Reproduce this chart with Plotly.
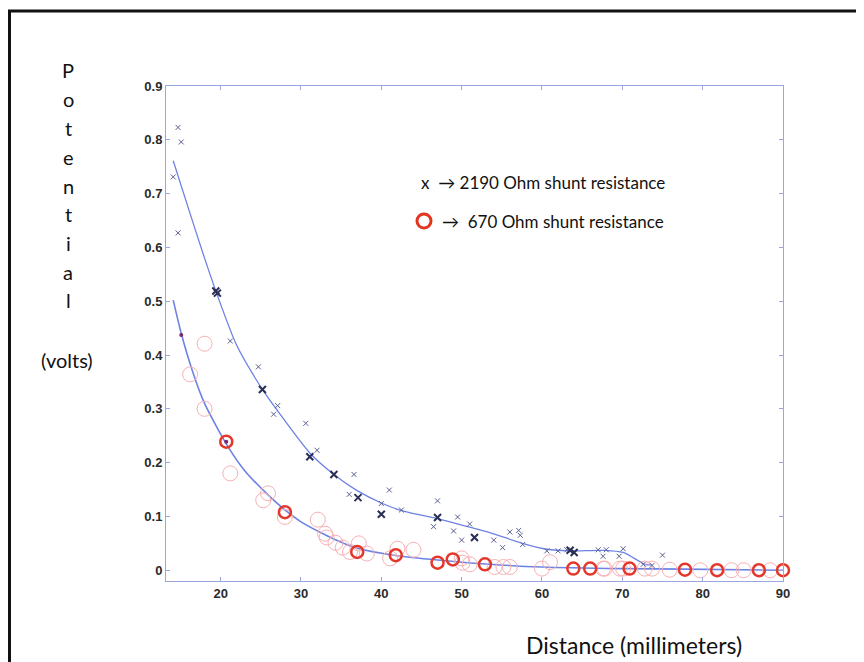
import plotly.graph_objects as go

# ---- data ----
# 2190 Ohm shunt resistance (x markers)
a_x = [14.7, 15.1, 14.1, 14.7, 21.2, 24.7, 27.1, 26.6, 30.6, 32.0, 36.6, 36.0, 40.0, 41.0, 42.5,
       47.0, 46.5, 49.0, 49.5, 51.0, 50.0, 54.0, 55.1, 56.0, 57.1, 57.3, 57.6, 60.6, 62.0, 63.1,
       67.0, 68.0, 67.6, 70.1, 69.6, 72.6, 73.7, 75.0]
a_y = [0.823, 0.796, 0.731, 0.627, 0.426, 0.378, 0.306, 0.290, 0.273, 0.223, 0.178, 0.141, 0.124, 0.149, 0.112,
       0.129, 0.081, 0.073, 0.099, 0.086, 0.056, 0.056, 0.042, 0.071, 0.074, 0.065, 0.048, 0.036, 0.036, 0.038,
       0.038, 0.038, 0.026, 0.040, 0.026, 0.011, 0.009, 0.028]
a_bold_x = [19.4, 19.6, 25.2, 31.1, 34.1, 37.1, 40.0, 47.0, 51.6, 63.5, 64.0]
a_bold_y = [0.519, 0.515, 0.336, 0.211, 0.178, 0.135, 0.104, 0.098, 0.061, 0.037, 0.033]

# 670 Ohm shunt resistance (circles)
b_x = [18.0, 16.2, 18.0, 21.2, 25.9, 25.3, 28.0, 32.1, 33.0, 33.2, 34.3, 35.2, 37.2, 36.1, 38.2,
       41.1, 42.0, 44.0, 50.0, 50.1, 51.0, 54.1, 55.2, 56.0, 60.0, 61.0, 67.6, 67.8, 69.7, 70.1,
       72.8, 73.7, 75.9, 79.7, 83.6, 85.1, 88.4]
b_y = [0.421, 0.364, 0.300, 0.180, 0.143, 0.130, 0.099, 0.094, 0.068, 0.061, 0.051, 0.042, 0.050, 0.034, 0.031,
       0.022, 0.040, 0.038, 0.022, 0.014, 0.011, 0.006, 0.006, 0.006, 0.003, 0.015, 0.003, 0.003, 0.003, 0.003,
       0.003, 0.003, 0.001, 0.0, 0.0, 0.0, 0.0]
b_bold_x = [20.7, 28.0, 37.0, 41.8, 47.0, 48.9, 52.9, 63.9, 66.0, 70.9, 77.8, 81.8, 87.0, 90.0]
b_bold_y = [0.239, 0.108, 0.034, 0.028, 0.014, 0.020, 0.011, 0.003, 0.003, 0.003, 0.001, 0.0, 0.0, 0.0]
b_dot_x = [15.1, 20.7]
b_dot_y = [0.437, 0.239]

# fitted curves
fit_a_x = [14.1, 16.0, 18.0, 19.4, 22.0, 25.2, 27.1, 31.1, 34.1, 37.0, 40.0, 42.5, 47.0, 49.0, 51.0,
           53.5, 57.8, 60.6, 63.5, 67.8, 70.1, 71.5, 72.8, 73.7]
fit_a_y = [0.761, 0.672, 0.580, 0.519, 0.418, 0.336, 0.296, 0.218, 0.178, 0.148, 0.125, 0.111, 0.096, 0.088, 0.080,
           0.070, 0.049, 0.039, 0.036, 0.037, 0.033, 0.022, 0.011, 0.010]
fit_b_x = [14.1, 15.1, 16.5, 18.0, 20.7, 23.0, 25.9, 28.0, 30.0, 33.0, 35.0, 37.0, 42.0, 47.0, 53.5,
           60.0, 70.0, 77.5, 90.0]
fit_b_y = [0.502, 0.440, 0.370, 0.310, 0.235, 0.185, 0.140, 0.112, 0.090, 0.066, 0.052, 0.041, 0.027, 0.019, 0.011,
           0.006, 0.003, 0.002, 0.0]

x_ticks = [20, 30, 40, 50, 60, 70, 80, 90]
y_ticks = [0, 0.1, 0.2, 0.3, 0.4, 0.5, 0.6, 0.7, 0.8, 0.9]
y_tick_text = ["0", "0.1", "0.2", "0.3", "0.4", "0.5", "0.6", "0.7", "0.8", "0.9"]
y_letters = list("Potential")

# ---- geometry (reference pixels; page body has an 8px margin) ----
OFF = 8
W, H = 864 - OFF, 662 - OFF
L, R, T, B = 166, 783, 86, 581
def px(x):
    return (x - L) / (R - L)
def py(y):
    return (B - y) / (B - T)

fig = go.Figure()
line_blue = "#6e82e4"
fig.add_trace(go.Scatter(x=fit_a_x, y=fit_a_y, mode="lines", line=dict(color=line_blue, width=1.3, shape="spline", smoothing=0.7), hoverinfo="skip"))
fig.add_trace(go.Scatter(x=fit_b_x, y=fit_b_y, mode="lines", line=dict(color=line_blue, width=1.6, shape="spline", smoothing=0.7), hoverinfo="skip"))
fig.add_trace(go.Scatter(x=b_x, y=b_y, mode="markers", cliponaxis=False,
                         marker=dict(symbol="circle-open", size=15, color="#f7b0b4", line=dict(width=1, color="#f7a8ad"))))
fig.add_trace(go.Scatter(x=b_bold_x, y=b_bold_y, mode="markers", cliponaxis=False,
                         marker=dict(symbol="circle-open", size=12, color="#e5362a", line=dict(width=2.5, color="#e5362a"))))
fig.add_trace(go.Scatter(x=b_dot_x, y=b_dot_y, mode="markers",
                         marker=dict(symbol="circle", size=4, color="#7a2a6a")))
fig.add_trace(go.Scatter(x=a_x, y=a_y, mode="markers",
                         marker=dict(symbol="x-thin", size=5, color="#5a6090", line=dict(width=1, color="#5a6090"))))
fig.add_trace(go.Scatter(x=a_bold_x, y=a_bold_y, mode="markers",
                         marker=dict(symbol="x-thin", size=7, color="#2a2f55", line=dict(width=2, color="#2a2f55"))))

axis_color = "#9aa6dc"
tick_font = dict(family="Liberation Sans", size=13, color="#2a2a2a", weight="bold")
fig.update_xaxes(range=[13.2, 90], tickvals=x_ticks, ticks="inside", ticklen=4, tickcolor=axis_color,
                 showline=True, linecolor=axis_color, linewidth=1, mirror="ticks", showgrid=False,
                 zeroline=False, tickfont=tick_font)
fig.update_yaxes(range=[-0.02, 0.9], tickvals=y_ticks, ticktext=y_tick_text, ticks="inside", ticklen=4,
                 tickcolor=axis_color, showline=True, linecolor=axis_color, linewidth=1, mirror="ticks",
                 showgrid=False, zeroline=False, tickfont=tick_font)

annots = []
ly = [70, 99, 128, 157, 186, 214, 243, 272, 300]
for ch, yy in zip(y_letters, ly):
    annots.append(dict(text=ch, x=px(68), y=py(yy), xref="paper", yref="paper", showarrow=False,
                       xanchor="center", yanchor="middle", font=dict(family="Lato", size=20, color="#111")))
annots.append(dict(text="(volts)", x=px(67), y=py(360), xref="paper", yref="paper", showarrow=False,
                   xanchor="center", yanchor="middle", font=dict(family="Lato", size=20, color="#111")))
annots.append(dict(text="Distance (millimeters)", x=px(634), y=py(645), xref="paper", yref="paper", showarrow=False,
                   xanchor="center", yanchor="middle", font=dict(family="Lato", size=23, color="#111")))
annots.append(dict(text="x  \u2192 2190 Ohm shunt resistance", x=px(419), y=py(182), xref="paper", yref="paper",
                   showarrow=False, xanchor="left", yanchor="middle", font=dict(family="Lato", size=17, color="#111")))
annots.append(dict(text="\u2192  670 Ohm shunt resistance", x=px(440), y=py(221), xref="paper", yref="paper",
                   showarrow=False, xanchor="left", yanchor="middle", font=dict(family="Lato", size=17, color="#111")))

shapes = [
    dict(type="rect", xref="paper", yref="paper", x0=px(9.5), y0=py(760), x1=px(960), y1=py(11),
         line=dict(color="#111", width=3), fillcolor="rgba(0,0,0,0)", layer="above"),
    dict(type="circle", xref="paper", yref="paper", x0=px(417), x1=px(431), y0=py(228), y1=py(214),
         line=dict(color="#e3341f", width=3)),
]

fig.update_layout(width=W, height=H, margin=dict(l=L - OFF, r=W - (R - OFF), t=T - OFF, b=H - (B - OFF)),
                  paper_bgcolor="white", plot_bgcolor="white", showlegend=False,
                  annotations=annots, shapes=shapes)
fig.write_html("out.html")
